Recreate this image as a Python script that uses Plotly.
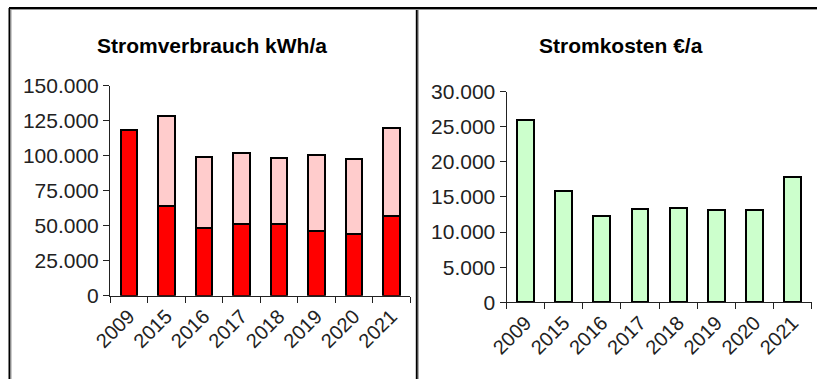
import plotly.graph_objects as go

years = ["2009", "2015", "2016", "2017", "2018", "2019", "2020", "2021"]
verbrauch_total = [118500, 128600, 99300, 101700, 98400, 100200, 97400, 119500]
verbrauch_rot = [118500, 64300, 48600, 51400, 51400, 46200, 43800, 56900]
verbrauch_rosa = [t - r for t, r in zip(verbrauch_total, verbrauch_rot)]
kosten = [25950, 15900, 12250, 13300, 13450, 13100, 13100, 17850]

W, H = 817, 379


def px(x):
    return x / W


def py(y):
    return 1 - y / H


fig = go.Figure()
fig.add_trace(go.Bar(x=years, y=verbrauch_rot, marker=dict(color="#FF0000", line=dict(color="black", width=2)),
                     xaxis="x", yaxis="y", showlegend=False))
fig.add_trace(go.Bar(x=years, y=verbrauch_rosa, marker=dict(color="#FFCCCC", line=dict(color="black", width=2)),
                     xaxis="x", yaxis="y", showlegend=False))
fig.add_trace(go.Bar(x=years, y=kosten, marker=dict(color="#CCFFCC", line=dict(color="black", width=2)),
                     xaxis="x2", yaxis="y2", showlegend=False))

axis_common = dict(showgrid=False, zeroline=False, showline=True, linecolor="#222", linewidth=1,
                   ticks="outside", tickcolor="#222", ticklen=6, tickwidth=1, automargin=False)
font_fam = "Liberation Sans, Arial, sans-serif"

fig.update_layout(
    template="none",
    width=W, height=H, margin=dict(l=0, r=0, t=0, b=0, pad=0), autosize=False,
    paper_bgcolor="white", plot_bgcolor="white",
    barmode="stack", bargap=0.56, separators=",.",
    font=dict(family=font_fam, color="#222"),
    xaxis=dict(domain=[px(110), px(410)], anchor="y", type="category", tickson="boundaries",
               tickangle=-45, tickfont=dict(size=20, color="#222"), **axis_common),
    yaxis=dict(domain=[py(295.7), py(85.7)], anchor="x", range=[0, 150000], dtick=25000,
               tickformat=",d", tickfont=dict(size=21, color="#222"), **axis_common),
    xaxis2=dict(domain=[px(506.5), px(811.7)], anchor="y2", type="category", tickson="boundaries",
                tickangle=-45, tickfont=dict(size=20, color="#222"), **axis_common),
    yaxis2=dict(domain=[py(302.3), py(91.5)], anchor="x2", range=[0, 30000], dtick=5000,
                tickformat=",d", tickfont=dict(size=21, color="#222"), **axis_common),
    annotations=[
        dict(text="<b>Stromverbrauch kWh/a</b>", x=px(211.7), y=py(45), xref="paper", yref="paper",
             showarrow=False, xanchor="center", yanchor="middle", font=dict(size=21, color="black", family=font_fam)),
        dict(text="<b>Stromkosten €/a</b>", x=px(620.7), y=py(45), xref="paper", yref="paper",
             showarrow=False, xanchor="center", yanchor="middle", font=dict(size=21, color="black", family=font_fam)),
    ],
    shapes=[
        dict(type="line", xref="paper", yref="paper", x0=px(9), x1=px(817), y0=py(8), y1=py(8),
             line=dict(color="black", width=2)),
        dict(type="line", xref="paper", yref="paper", x0=px(9.5), x1=px(9.5), y0=py(8), y1=py(379),
             line=dict(color="black", width=2)),
        dict(type="line", xref="paper", yref="paper", x0=px(416.8), x1=px(416.8), y0=py(8), y1=py(379),
             line=dict(color="black", width=2)),
        dict(type="line", xref="paper", yref="paper", x0=px(10.5), x1=px(817), y0=py(9.5), y1=py(9.5),
             line=dict(color="#999", width=1)),
        dict(type="line", xref="paper", yref="paper", x0=px(11), x1=px(11), y0=py(9.5), y1=py(379),
             line=dict(color="#999", width=1)),
        dict(type="line", xref="paper", yref="paper", x0=px(418.3), x1=px(418.3), y0=py(9.5), y1=py(379),
             line=dict(color="#999", width=1)),
    ],
)

fig.write_html("out.html", config={"displayModeBar": False},
               post_script="document.body.style.margin='0';document.body.style.overflow='hidden';")
